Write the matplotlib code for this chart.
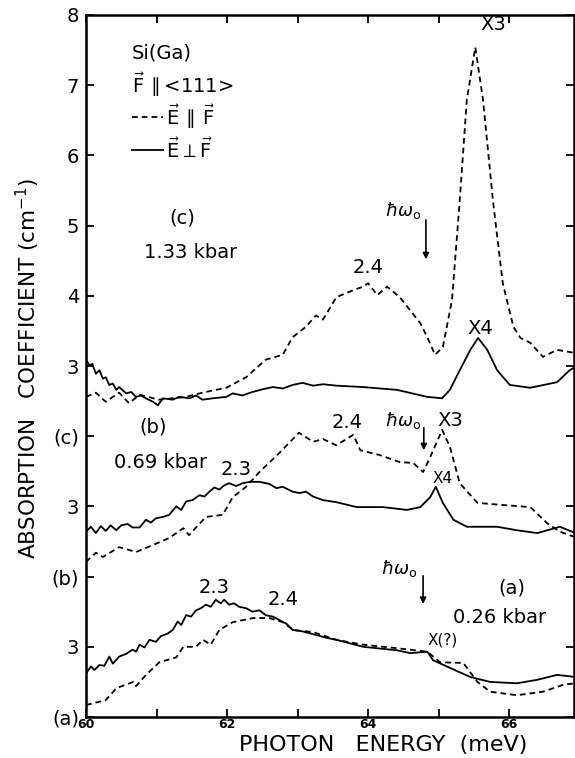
import matplotlib
matplotlib.use("Agg")
import matplotlib.pyplot as plt
import numpy as np

plt.rcParams['font.family'] = ['DejaVu Sans']
plt.rcParams['mathtext.fontset'] = 'dejavusans'

# ---- data (absorption coefficient, cm^-1) ----
c_perp_x = [60.00, 60.05, 60.09, 60.14, 60.19, 60.24, 60.28, 60.33, 60.38, 60.43, 60.47, 60.57, 60.64, 60.71,
            60.78, 60.85, 60.95, 61.02, 61.09, 61.23, 61.32, 61.47, 61.56, 61.65, 61.80, 61.99, 62.08, 62.22,
            62.36, 62.51, 62.65, 62.79, 62.93, 63.07, 63.22, 63.36, 63.55, 63.93, 64.41, 64.84, 65.05, 65.16,
            65.30, 65.45, 65.56, 65.69, 65.83, 66.01, 66.30, 66.68, 66.86, 66.94]
c_perp = [3.09, 3.01, 3.03, 2.89, 2.94, 2.82, 2.84, 2.73, 2.75, 2.66, 2.70, 2.61, 2.63, 2.56,
          2.58, 2.54, 2.49, 2.44, 2.54, 2.52, 2.56, 2.54, 2.58, 2.52, 2.54, 2.56, 2.61, 2.58,
          2.63, 2.67, 2.70, 2.68, 2.73, 2.76, 2.72, 2.74, 2.72, 2.70, 2.66, 2.56, 2.54, 2.66,
          2.94, 3.23, 3.40, 3.23, 2.94, 2.73, 2.69, 2.77, 2.94, 2.99]

c_par_x = [60.00, 60.14, 60.28, 60.47, 60.61, 60.76, 61.04, 61.42, 61.65, 61.99, 62.27, 62.55, 62.79, 62.93,
           63.12, 63.26, 63.36, 63.55, 63.79, 63.93, 64.00, 64.13, 64.27, 64.45, 64.74, 64.84, 64.95, 65.06,
           65.19, 65.30, 65.40, 65.52, 65.63, 65.77, 65.91, 66.06, 66.16, 66.30, 66.48, 66.68, 66.91]
c_par = [2.56, 2.62, 2.49, 2.62, 2.47, 2.59, 2.52, 2.56, 2.62, 2.69, 2.84, 3.09, 3.16, 3.41,
         3.56, 3.72, 3.66, 3.98, 4.08, 4.13, 4.18, 4.01, 4.13, 3.98, 3.61, 3.41, 3.16, 3.27,
         3.94, 5.36, 6.79, 7.54, 6.79, 5.36, 4.18, 3.56, 3.40, 3.33, 3.13, 3.23, 3.19]

b_perp_x = [60.00, 60.07, 60.14, 60.21, 60.28, 60.35, 60.43, 60.50, 60.59, 60.66, 60.76, 60.85, 60.92, 60.99,
            61.09, 61.18, 61.28, 61.35, 61.42, 61.51, 61.61, 61.68, 61.75, 61.82, 61.89, 61.96, 62.03, 62.13,
            62.22, 62.32, 62.46, 62.60, 62.70, 62.79, 62.93, 63.03, 63.12, 63.22, 63.36, 63.55, 63.84, 64.21,
            64.55, 64.74, 64.88, 64.96, 65.06, 65.21, 65.40, 65.83, 66.11, 66.40, 66.72, 66.94]
b_perp = [2.64, 2.71, 2.62, 2.72, 2.65, 2.73, 2.66, 2.73, 2.75, 2.70, 2.70, 2.81, 2.77, 2.83,
          2.85, 2.88, 3.00, 2.95, 3.07, 3.09, 3.16, 3.14, 3.21, 3.27, 3.24, 3.30, 3.33, 3.29,
          3.33, 3.35, 3.35, 3.32, 3.26, 3.28, 3.21, 3.19, 3.21, 3.14, 3.09, 3.06, 2.99, 2.99,
          2.95, 2.99, 3.13, 3.28, 3.05, 2.81, 2.71, 2.71, 2.66, 2.62, 2.71, 2.62]

b_par_x = [60.00, 60.14, 60.24, 60.47, 60.71, 60.95, 61.18, 61.38, 61.46, 61.70, 61.94, 62.08, 62.27, 62.45,
           62.74, 63.02, 63.22, 63.36, 63.55, 63.79, 63.89, 64.17, 64.45, 64.64, 64.78, 64.88, 65.05, 65.16,
           65.30, 65.55, 65.91, 66.30, 66.54, 66.72, 66.94]
b_par = [2.21, 2.34, 2.28, 2.42, 2.35, 2.45, 2.55, 2.69, 2.59, 2.85, 2.88, 3.13, 3.28, 3.48,
         3.76, 4.05, 3.92, 3.96, 3.87, 4.02, 3.80, 3.73, 3.63, 3.62, 3.49, 3.70, 4.09, 3.85,
         3.33, 3.05, 3.02, 2.99, 2.76, 2.64, 2.56]

a_perp_x = [60.00, 60.07, 60.12, 60.19, 60.26, 60.33, 60.38, 60.47, 60.57, 60.66, 60.71, 60.76, 60.83, 60.90,
            60.99, 61.06, 61.16, 61.23, 61.30, 61.35, 61.42, 61.49, 61.56, 61.63, 61.70, 61.77, 61.84, 61.91,
            61.96, 62.03, 62.10, 62.17, 62.27, 62.36, 62.46, 62.55, 62.65, 62.84, 62.93, 63.07, 63.26, 63.40,
            63.55, 63.93, 64.41, 64.60, 64.84, 64.92, 65.16, 65.45, 65.73, 66.11, 66.40, 66.68, 66.94]
a_perp = [2.62, 2.72, 2.67, 2.74, 2.73, 2.86, 2.76, 2.86, 2.90, 2.96, 2.93, 3.03, 2.99, 3.10,
          3.07, 3.15, 3.19, 3.24, 3.36, 3.31, 3.45, 3.43, 3.52, 3.55, 3.60, 3.57, 3.67, 3.62,
          3.67, 3.60, 3.62, 3.57, 3.55, 3.50, 3.52, 3.45, 3.43, 3.33, 3.24, 3.22, 3.17, 3.13,
          3.10, 3.00, 2.95, 2.91, 2.93, 2.81, 2.70, 2.57, 2.50, 2.48, 2.53, 2.60, 2.57]

a_par_x = [60.00, 60.28, 60.43, 60.67, 60.71, 60.85, 61.04, 61.28, 61.38, 61.56, 61.66, 61.77, 61.89, 62.08,
           62.37, 62.60, 62.79, 62.94, 63.22, 63.55, 63.93, 64.41, 64.84, 65.02, 65.35, 65.55, 65.73, 66.11,
           66.48, 66.77, 66.94]
a_par = [2.17, 2.24, 2.41, 2.50, 2.44, 2.60, 2.78, 2.85, 3.00, 3.00, 3.10, 3.03, 3.24, 3.35,
         3.41, 3.41, 3.35, 3.24, 3.21, 3.10, 3.03, 2.98, 2.93, 2.78, 2.77, 2.50, 2.36, 2.31,
         2.36, 2.46, 2.48]

# vertical offsets of the three spectra on the shared axis
offset_c = 2.0
offset_b = 0.0
offset_a = -2.0

ytick_pos = [0, 1, 2, 3, 4, 5, 6, 7, 8, 9, 10]
ytick_labels = ['(a)', '3', '(b)', '3', '(c)', '3', '4', '5', '6', '7', '8']
xtick_pos = [60, 61, 62, 63, 64, 65, 66]
xtick_labels = ['60', '', '62', '', '64', '', '66']

fig = plt.figure(figsize=(5.75, 7.58), dpi=100)
ax = fig.add_axes([86 / 575, 1 - 717 / 758, (574 - 86) / 575, (717 - 15) / 758])

dash = (0, (3.2, 2.2))
lw = 1.3
ax.plot(c_perp_x, np.array(c_perp) + offset_c, color='black', lw=lw)
ax.plot(c_par_x, np.array(c_par) + offset_c, color='black', lw=lw, ls=dash)
ax.plot(b_perp_x, np.array(b_perp) + offset_b, color='black', lw=lw)
ax.plot(b_par_x, np.array(b_par) + offset_b, color='black', lw=lw, ls=dash)
ax.plot(a_perp_x, np.array(a_perp) + offset_a, color='black', lw=lw)
ax.plot(a_par_x, np.array(a_par) + offset_a, color='black', lw=lw, ls=dash)

ax.set_xlim(60, 66.92)
ax.set_ylim(0, 10)
ax.set_yticks(ytick_pos)
ax.set_yticklabels(ytick_labels, fontsize=14)
ax.set_xticks(xtick_pos)
ax.set_xticklabels(xtick_labels, fontsize=9, fontweight='bold')
ax.tick_params(direction='in', length=6, width=1.3, top=True, right=True)
ax.tick_params(axis='x', pad=1)
ax.tick_params(axis='y', pad=5)
for s in ax.spines.values():
    s.set_linewidth(1.8)

ax.set_xlabel('PHOTON   ENERGY  (meV)', fontsize=16)
ax.xaxis.set_label_coords(0.61, -0.026)
ax.set_ylabel('ABSORPTION   COEFFICIENT (cm$^{-1}$)', fontsize=15.5)
ax.yaxis.set_label_coords(-0.09, 0.497)

fs = 14
# legend block
ax.text(60.65, 9.46, 'Si(Ga)', fontsize=fs, ha='left', va='center')
ax.text(60.65, 9.00, r'$\vec{\rm F}\,\parallel$<111>', fontsize=fs, ha='left', va='center')
ax.plot([60.65, 61.09], [8.55, 8.55], color='black', lw=lw, ls=dash)
ax.text(61.14, 8.55, r'$\vec{\rm E}\,\parallel\,\vec{\rm F}$', fontsize=fs, ha='left', va='center')
ax.plot([60.65, 61.09], [8.08, 8.08], color='black', lw=lw)
ax.text(61.14, 8.08, r'$\vec{\rm E}\perp\vec{\rm F}$', fontsize=fs, ha='left', va='center')

# (c)
ax.text(61.36, 7.11, '(c)', fontsize=fs, ha='center', va='center')
ax.text(61.48, 6.61, '1.33 kbar', fontsize=fs, ha='center', va='center')
ax.text(64.0, 6.40, '2.4', fontsize=fs, ha='center', va='center')
ax.text(64.5, 7.22, r'$\hbar\omega_{\rm o}$', fontsize=13, ha='center', va='center')
ax.annotate('', xy=(64.82, 6.48), xytext=(64.82, 7.12),
            arrowprops=dict(arrowstyle='-|>', color='black', lw=1.2, mutation_scale=9))
ax.text(65.77, 9.86, 'X3', fontsize=fs, ha='center', va='center')
ax.text(65.59, 5.54, 'X4', fontsize=fs, ha='center', va='center')

# (b)
ax.text(60.95, 4.13, '(b)', fontsize=fs, ha='center', va='center')
ax.text(61.06, 3.63, '0.69 kbar', fontsize=fs, ha='center', va='center')
ax.text(62.13, 3.52, '2.3', fontsize=fs, ha='center', va='center')
ax.text(63.70, 4.20, '2.4', fontsize=fs, ha='center', va='center')
ax.text(64.5, 4.23, r'$\hbar\omega_{\rm o}$', fontsize=13, ha='center', va='center')
ax.annotate('', xy=(64.79, 3.76), xytext=(64.79, 4.16),
            arrowprops=dict(arrowstyle='-|>', color='black', lw=1.2, mutation_scale=9))
ax.text(65.16, 4.23, 'X3', fontsize=fs, ha='center', va='center')
ax.text(65.05, 3.40, 'X4', fontsize=11, ha='center', va='center')

# (a)
ax.text(61.82, 1.84, '2.3', fontsize=fs, ha='center', va='center')
ax.text(62.79, 1.67, '2.4', fontsize=fs, ha='center', va='center')
ax.text(64.45, 2.12, r'$\hbar\omega_{\rm o}$', fontsize=13, ha='center', va='center')
ax.annotate('', xy=(64.78, 1.57), xytext=(64.78, 2.05),
            arrowprops=dict(arrowstyle='-|>', color='black', lw=1.2, mutation_scale=9))
ax.text(66.04, 1.84, '(a)', fontsize=fs, ha='center', va='center')
ax.text(65.87, 1.42, '0.26 kbar', fontsize=fs, ha='center', va='center')
ax.text(65.06, 1.10, 'X(?)', fontsize=11, ha='center', va='center')

fig.savefig('out.png', dpi=100)
